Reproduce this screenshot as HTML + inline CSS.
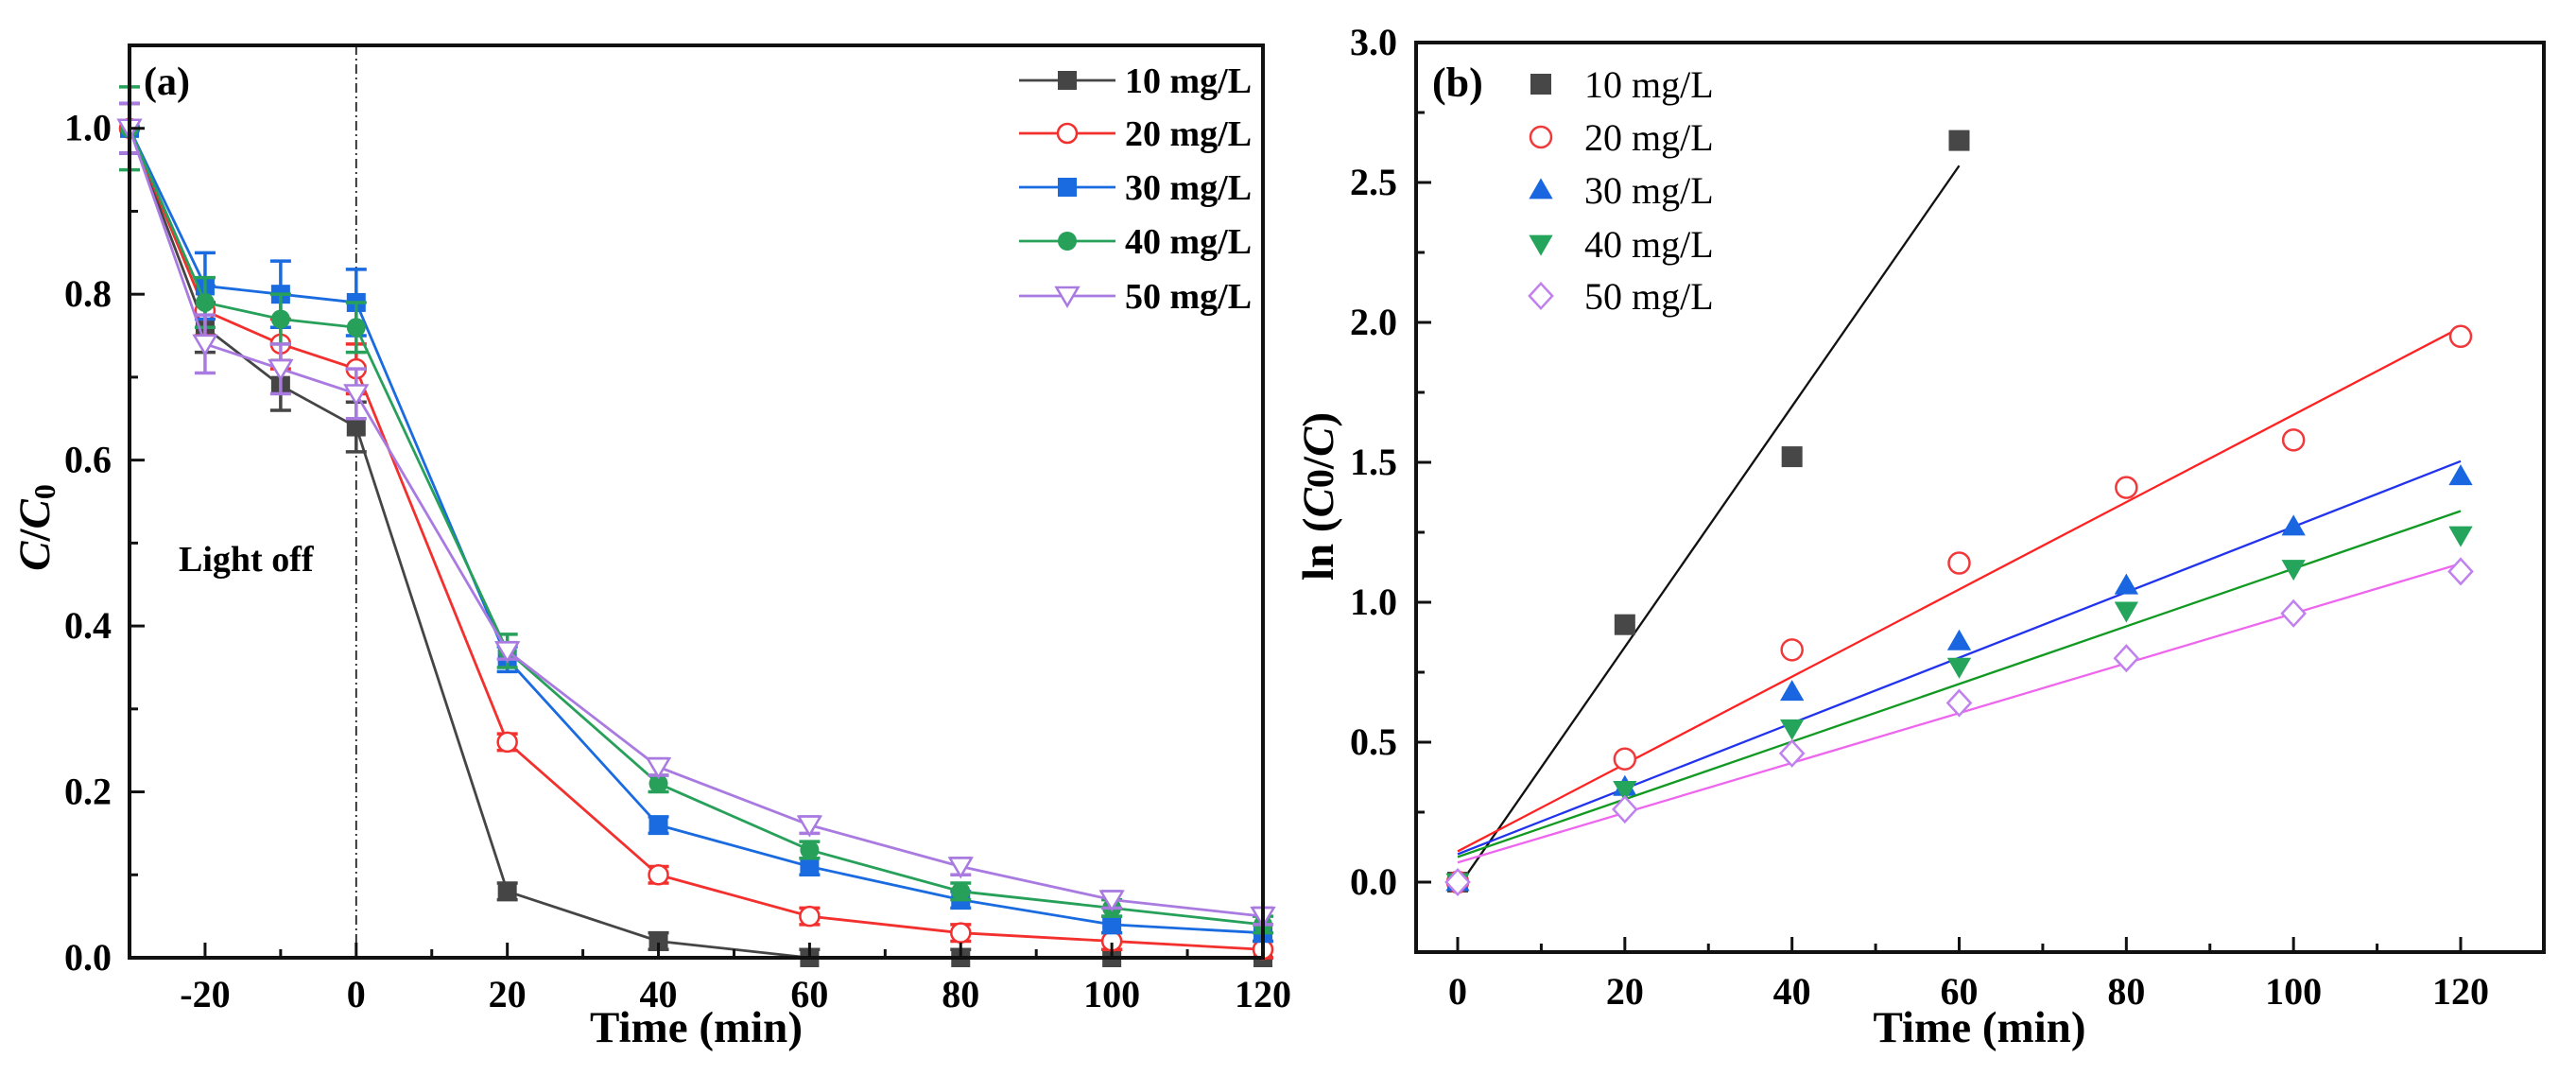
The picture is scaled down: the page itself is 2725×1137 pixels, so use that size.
<!DOCTYPE html>
<html><head><meta charset="utf-8"><style>
html,body{margin:0;padding:0;background:#fff;}
svg{display:block;font-family:"Liberation Serif",serif;}
</style></head><body>
<svg id="fig" width="2725" height="1137" viewBox="0 0 2725 1137" xmlns="http://www.w3.org/2000/svg">
<g id="pa"></g>
<g id="pb"></g>
</svg>
<script>
const timesA = [-30,-20,-10,0,20,40,60,80,100,120];
const series10 = [1,0.76,0.69,0.64,0.08,0.02,0,0,0,0];
const series20 = [1,0.78,0.74,0.71,0.26,0.10,0.05,0.03,0.02,0.01];
const series30 = [1,0.81,0.80,0.79,0.36,0.16,0.11,0.07,0.04,0.03];
const series40 = [1,0.79,0.77,0.76,0.37,0.21,0.13,0.08,0.06,0.04];
const series50 = [1,0.74,0.71,0.68,0.37,0.23,0.16,0.11,0.07,0.05];
const err10 = [0.03,0.03,0.03,0.03,0.01,0.01,0.01,0.01,0.01,0.01];
const err20 = [0.03,0.03,0.03,0.03,0.01,0.01,0.01,0.01,0.01,0.01];
const err30 = [0.03,0.04,0.04,0.04,0.015,0.01,0.01,0.01,0.01,0.01];
const err40 = [0.05,0.03,0.03,0.03,0.02,0.01,0.01,0.01,0.01,0.01];
const err50 = [0.03,0.035,0.03,0.03,0.01,0.01,0.01,0.01,0.01,0.01];
const labelsA = ["10 mg/L","20 mg/L","30 mg/L","40 mg/L","50 mg/L"];
const xTicksA = [-20,0,20,40,60,80,100,120];
const yTicksA = [0,0.2,0.4,0.6,0.8,1.0];

const timesB = [0,20,40,60,80,100,120];
const lnB10 = [0,0.92,1.52,2.65];
const lnB20 = [0,0.44,0.83,1.14,1.41,1.58,1.95];
const lnB30 = [0,0.34,0.68,0.86,1.06,1.27,1.45];
const lnB40 = [0,0.33,0.55,0.77,0.97,1.12,1.24];
const lnB50 = [0,0.26,0.46,0.64,0.80,0.96,1.11];
const fitSlope = [0.043,0.0156,0.0117,0.0103,0.0089];
const fitIntercept = [-0.02,0.11,0.10,0.09,0.07];
const fitEnd = [60,120,120,120,120];
const xTicksB = [0,20,40,60,80,100,120];
const yTicksB = [0,0.5,1.0,1.5,2.0,2.5,3.0];

const NS="http://www.w3.org/2000/svg";
function mk(parent,tag,attrs,txt){const e=document.createElementNS(NS,tag);for(const k in attrs)e.setAttribute(k,attrs[k]);if(txt!==undefined)e.textContent=txt;parent.appendChild(e);return e;}
const colsA=["#454545","#f2302e","#1a6be0","#27a05a","#a97ae0"];

function marker(g,type,cx,cy,c,s){
  let e;
  if(type==="sq") e=mk(g,"rect",{x:cx-s,y:cy-s,width:2*s,height:2*s,fill:c});
  else if(type==="circ") e=mk(g,"circle",{cx:cx,cy:cy,r:s,fill:"#fff",stroke:c,"stroke-width":2.5});
  else if(type==="circf") e=mk(g,"circle",{cx:cx,cy:cy,r:s,fill:c});
  else if(type==="tri") e=mk(g,"polygon",{points:`${cx},${cy-s*1.15} ${cx-s*1.15},${cy+s*0.85} ${cx+s*1.15},${cy+s*0.85}`,fill:c});
  else if(type==="trid") e=mk(g,"polygon",{points:`${cx},${cy+s*1.15} ${cx-s*1.15},${cy-s*0.85} ${cx+s*1.15},${cy-s*0.85}`,fill:c});
  else if(type==="trido") e=mk(g,"polygon",{points:`${cx},${cy+s*1.05} ${cx-s*1.15},${cy-s*0.9} ${cx+s*1.15},${cy-s*0.9}`,fill:"#fff",stroke:c,"stroke-width":2.5});
  else if(type==="dia") e=mk(g,"polygon",{points:`${cx},${cy-s*1.2} ${cx+s*1.1},${cy} ${cx},${cy+s*1.2} ${cx-s*1.1},${cy}`,fill:"#fff",stroke:c,"stroke-width":2.5});
  
  
  return e;
}

// ---------- Panel A ----------
(function(){
  const g=document.getElementById("pa");
  const L=137,R=1336,T=48,B=1013;
  const X=v=>L+(v+30)/150*(R-L);
  const Y=v=>B-v/1.1*(B-T);
  // dash-dot line at 0
  mk(g,"line",{x1:X(0),y1:T,x2:X(0),y2:B,stroke:"#222","stroke-width":1.8,"stroke-dasharray":"10,4,2,4",});
  const data=[series10,series20,series30,series40,series50];
  const errs=[err10,err20,err30,err40,err50];
  const types=["sq","circ","sq","circf","trido"];
  for(let s=0;s<5;s++){
    const sg=mk(g,"g",{});
    const pts=timesA.map((t,i)=>X(t)+","+Y(data[s][i])).join(" ");
    mk(sg,"polyline",{points:pts,fill:"none",stroke:colsA[s],"stroke-width":2.8});
    for(let i=0;i<timesA.length;i++){
      const x=X(timesA[i]),y=Y(data[s][i]),e=errs[s][i];
      const y1=Y(data[s][i]+e),y2=Y(Math.max(0,data[s][i]-e));
      mk(sg,"line",{x1:x,y1:y1,x2:x,y2:y2,stroke:colsA[s],"stroke-width":3.5});
      mk(sg,"line",{x1:x-11,y1:y1,x2:x+11,y2:y1,stroke:colsA[s],"stroke-width":3.5});
      mk(sg,"line",{x1:x-11,y1:y2,x2:x+11,y2:y2,stroke:colsA[s],"stroke-width":3.5});
      marker(sg,types[s],x,y,colsA[s],10);
    }
  }
  // axes frame
  mk(g,"rect",{x:L,y:T,width:R-L,height:B-T,fill:"none",stroke:"#111","stroke-width":4,});
  for(let v=-30;v<=120;v+=10){
    const maj=xTicksA.includes(v);
    mk(g,"line",{x1:X(v),y1:B,x2:X(v),y2:B-(maj?16:9),stroke:"#111","stroke-width":3});
  }
  xTicksA.forEach(v=>mk(g,"text",{x:X(v),y:1065,"font-size":40,"font-weight":"bold","text-anchor":"middle",},String(v)));
  for(let k=0;k<=10;k++){
    const v=k/10, maj=k%2===0;
    mk(g,"line",{x1:L,y1:Y(v),x2:L+(maj?16:9),y2:Y(v),stroke:"#111","stroke-width":3});
  }
  yTicksA.forEach(v=>mk(g,"text",{x:118,y:Y(v)+13,"font-size":40,"font-weight":"bold","text-anchor":"end",},v.toFixed(1)));
  mk(g,"text",{x:(L+R)/2,y:1102,"font-size":47,"font-weight":"bold","text-anchor":"middle",},"Time (min)");
  const yt=mk(g,"text",{x:0,y:0,transform:"translate(52,558) rotate(-90)","font-size":47,"font-weight":"bold","text-anchor":"middle",});
  yt.innerHTML='<tspan font-style="italic">C</tspan>/<tspan font-style="italic">C</tspan><tspan font-size="32" dy="6">0</tspan>';
  mk(g,"text",{x:152,y:100,"font-size":42,"font-weight":"bold",},"(a)");
  mk(g,"text",{x:189,y:604,"font-size":38,"font-weight":"bold",},"Light off");
  const ly=[85,141,198,255,313];
  for(let s=0;s<5;s++){
    const lg=mk(g,"g",{});
    mk(lg,"line",{x1:1078,y1:ly[s],x2:1180,y2:ly[s],stroke:colsA[s],"stroke-width":2.8});
    marker(lg,types[s],1129,ly[s],colsA[s],10);
    mk(lg,"text",{x:1190,y:ly[s]+13,"font-size":38,"font-weight":"bold"},labelsA[s]);
  }
})();

// ---------- Panel B ----------
(function(){
  const g=document.getElementById("pb");
  const L=1498,R=2691,T=45,B=1007;
  const X=v=>1542+v/120*(2603-1542);
  const Y=v=>933-v/3*(933-45);
  const colsB=["#474747","#f0393a","#1a66e0","#25a55b","#c080ee"];
  const lineCols=["#111","#f22","#2233ee","#119922","#ee66ee"];
  const data=[lnB10,lnB20,lnB30,lnB40,lnB50];
  const types=["sq","circ","tri","trid","dia"];
  for(let s=0;s<5;s++){
    const sg=mk(g,"g",{});
    mk(sg,"line",{x1:X(0),y1:Y(fitIntercept[s]),x2:X(fitEnd[s]),y2:Y(fitIntercept[s]+fitSlope[s]*fitEnd[s]),stroke:lineCols[s],"stroke-width":2.3,});
    data[s].forEach((v,i)=>marker(sg,types[s],X(timesB[i]),Y(v),colsB[s],11));
  }
  mk(g,"rect",{x:L,y:T,width:R-L,height:B-T,fill:"none",stroke:"#111","stroke-width":4,});
  for(let v=0;v<=130;v+=10){
    const x=X(v); if(x>R) break;
    const maj=v%20===0;
    mk(g,"line",{x1:x,y1:B,x2:x,y2:B-(maj?16:9),stroke:"#111","stroke-width":3});
  }
  xTicksB.forEach(v=>mk(g,"text",{x:X(v),y:1062,"font-size":40,"font-weight":"bold","text-anchor":"middle",},String(v)));
  for(let k=-1;k<=12;k++){
    const v=k*0.25, maj=k%2===0;
    mk(g,"line",{x1:L,y1:Y(v),x2:L+(maj?16:9),y2:Y(v),stroke:"#111","stroke-width":3});
  }
  yTicksB.forEach(v=>mk(g,"text",{x:1478,y:Y(v)+13,"font-size":40,"font-weight":"bold","text-anchor":"end",},v.toFixed(1)));
  mk(g,"text",{x:2094,y:1102,"font-size":47,"font-weight":"bold","text-anchor":"middle",},"Time (min)");
  const yt=mk(g,"text",{x:0,y:0,transform:"translate(1410,525) rotate(-90)","font-size":47,"font-weight":"bold","text-anchor":"middle",});
  yt.innerHTML='ln (<tspan font-style="italic">C</tspan><tspan font-size="40">0</tspan>/<tspan font-style="italic">C</tspan>)';
  mk(g,"text",{x:1515,y:102,"font-size":44,"font-weight":"bold",},"(b)");
  const ly=[89,145,201,258,313];
  for(let s=0;s<5;s++){
    const lg=mk(g,"g",{});
    marker(lg,types[s],1630,ly[s],colsB[s],11);
    mk(lg,"text",{x:1676,y:ly[s]+14,"font-size":40},labelsA[s]);
  }
})();
</script>
</body></html>
